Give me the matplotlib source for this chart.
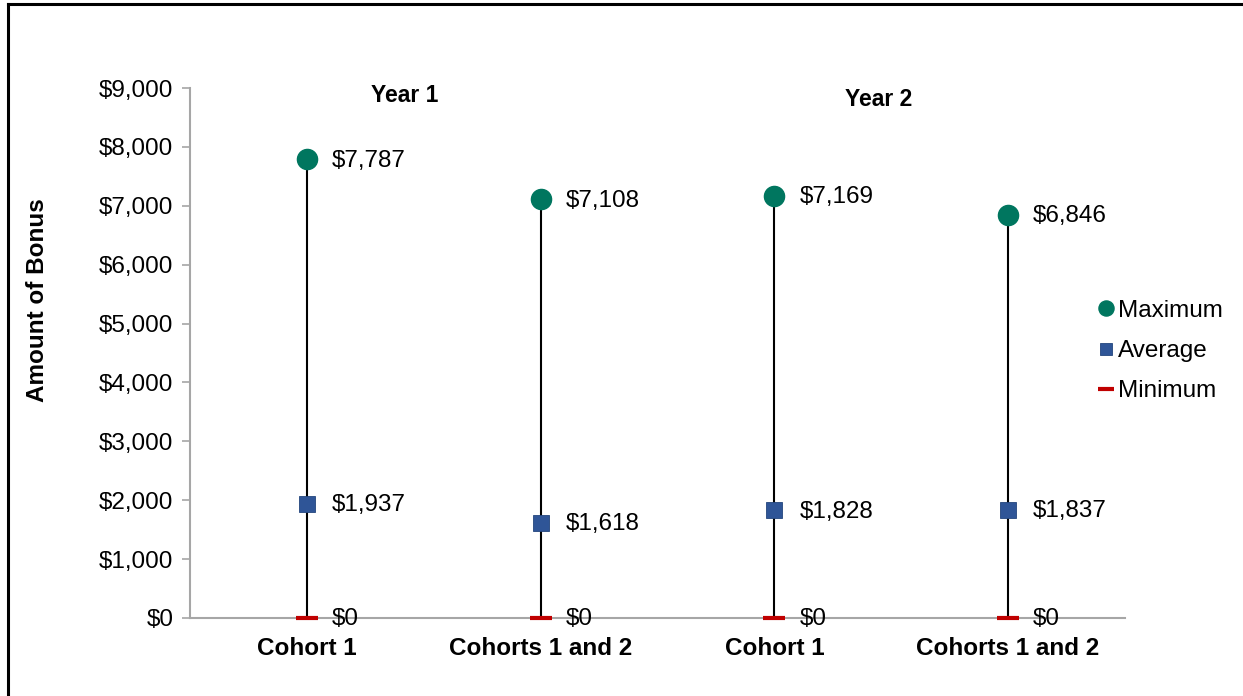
import numpy as np
import matplotlib
matplotlib.use("Agg")
import matplotlib.pyplot as plt
from matplotlib.lines import Line2D
from matplotlib.ticker import FuncFormatter

plt.rcParams['font.family'] = ['Liberation Sans', 'DejaVu Sans']

categories = ["Cohort 1", "Cohorts 1 and 2", "Cohort 1", "Cohorts 1 and 2"]
years = ["Year 1", "Year 2"]
maximum = [7787, 7108, 7169, 6846]
average = [1937, 1618, 1828, 1837]
minimum = [0, 0, 0, 0]

teal = "#00765F"
blue = "#2F5597"
red = "#C00000"
axis_grey = "#A6A6A6"
FS = 17.5

fig = plt.figure(figsize=(12.43, 6.96), dpi=100)
ax = fig.add_axes([190 / 1243, 78 / 696, 935 / 1243, 530 / 696])

x = np.arange(len(categories))

# high-low lines
ax.vlines(x, minimum, maximum, color="black", linewidth=1.5, zorder=1)

ax.plot(x, maximum, linestyle="none", marker="o", markersize=14.5,
        color=teal, label="Maximum", zorder=3)
ax.plot(x, average, linestyle="none", marker="s", markersize=12,
        color=blue, markeredgecolor="#23457d", markeredgewidth=0.6,
        label="Average", zorder=3)
ax.plot(x, minimum, linestyle="none", marker="_", markersize=16,
        markeredgewidth=3, color=red, label="Minimum", zorder=4,
        clip_on=False)

fmt = lambda v: f"${v:,.0f}"
for xi, hi, av, lo in zip(x, maximum, average, minimum):
    for v in (hi, av, lo):
        ax.annotate(fmt(v), (xi, v), xytext=(18, -1), textcoords="offset points",
                    ha="left", va="center", fontsize=FS, zorder=5)

ax.set_xlim(-0.5, len(categories) - 0.5)
ax.set_ylim(0, 9000)
ax.set_yticks(np.arange(0, 9001, 1000))
ax.yaxis.set_major_formatter(FuncFormatter(lambda v, p: fmt(v)))
ax.set_xticks(x)
ax.set_xticklabels(categories, fontsize=FS, fontweight="bold")
ax.tick_params(axis="x", length=0, pad=14)
ax.tick_params(axis="y", labelsize=FS, length=6, width=1.2, color=axis_grey, pad=6)

for side in ("top", "right"):
    ax.spines[side].set_visible(False)
for side in ("left", "bottom"):
    ax.spines[side].set_color(axis_grey)
    ax.spines[side].set_linewidth(1.5)
    ax.spines[side].set_zorder(0.5)

fig.text(38 / 1243, 1 - 300 / 696, "Amount of Bonus", rotation=90,
         ha="center", va="center", fontsize=FS, fontweight="bold")

# year headings
ax.text(0.23, 0.985, years[0], transform=ax.transAxes, ha="center", va="center",
        fontsize=16.5, fontweight="bold")
ax.text(0.736, 0.979, years[1], transform=ax.transAxes, ha="center", va="center",
        fontsize=16.5, fontweight="bold")

fig.legend(loc="center left", bbox_to_anchor=(1099 / 1243, 1 - 351 / 696),
           frameon=False, fontsize=FS, handlelength=0.6, handletextpad=0.2,
           labelspacing=0.75, borderaxespad=0, borderpad=0, markerscale=0.75)

# outer frame
fig.add_artist(Line2D([8 / 1243, 8 / 1243], [0, 1 - 4 / 696], color="black",
                      linewidth=2.2, transform=fig.transFigure))
fig.add_artist(Line2D([8 / 1243, 1], [1 - 4 / 696, 1 - 4 / 696], color="black",
                      linewidth=2.2, transform=fig.transFigure))

fig.savefig("out.png", dpi=100)
